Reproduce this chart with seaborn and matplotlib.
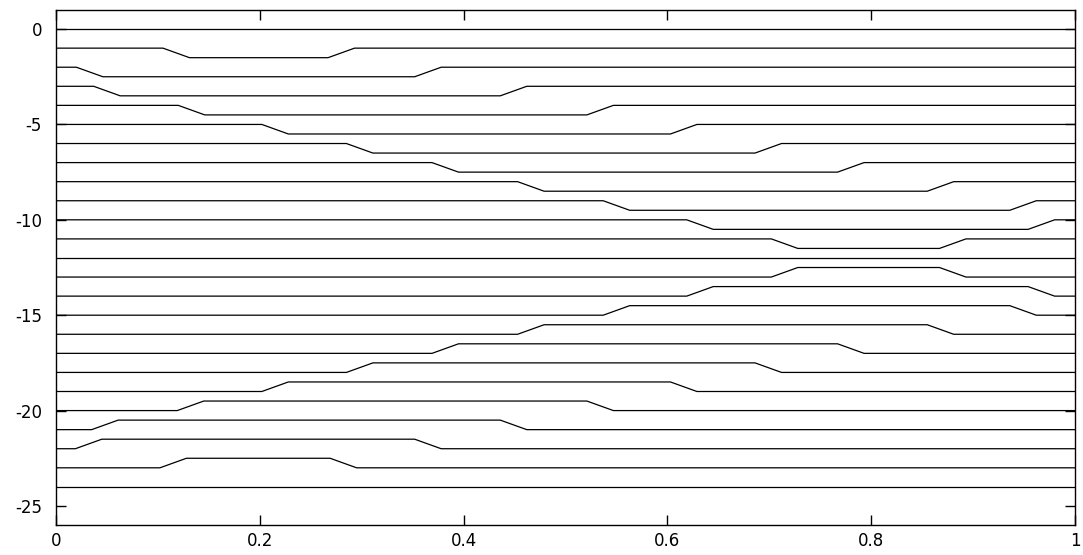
import numpy as np
import pandas as pd
import matplotlib
matplotlib.use("Agg")
import matplotlib.pyplot as plt
import seaborn as sns

# one trace per offset 0 .. -24; each non-flat trace has one half-unit step pulse
offsets = list(range(0, -25, -1))
# pulse direction: -1 = dips down by 0.5, +1 = bumps up by 0.5, 0 = flat
direction = [0, -1, -1, -1, -1, -1, -1, -1, -1, -1, -1, -1, 0,
             1, 1, 1, 1, 1, 1, 1, 1, 1, 1, 1, 0]
# centre of the leading and trailing edges
edge_on = [None, 0.118, 0.033, 0.050, 0.133, 0.215, 0.298, 0.382, 0.466, 0.550, 0.632, 0.715, None,
           0.715, 0.632, 0.550, 0.466, 0.382, 0.298, 0.215, 0.132, 0.048, 0.032, 0.115, None]
edge_off = [None, 0.280, 0.365, 0.449, 0.534, 0.616, 0.699, 0.780, 0.868, 0.949, 0.967, 0.880, None,
            0.880, 0.967, 0.949, 0.868, 0.780, 0.699, 0.616, 0.534, 0.449, 0.365, 0.282, None]
ramp = 0.026  # width of each edge in x
x_ticks = [0, 0.2, 0.4, 0.6, 0.8, 1]
x_labels = ["0", "0.2", "0.4", "0.6", "0.8", "1"]
y_ticks = [0, -5, -10, -15, -20, -25]
y_labels = ["0", "-5", "-10", "-15", "-20", "-25"]

rows = []
for k, base in enumerate(offsets):
    d = direction[k]
    if d == 0:
        pts = [(0.0, base), (1.0, base)]
    else:
        a, b = edge_on[k], edge_off[k]
        lvl = base + 0.5 * d
        pts = [(0.0, base), (a - ramp / 2, base), (a + ramp / 2, lvl),
               (b - ramp / 2, lvl), (b + ramp / 2, base), (1.0, base)]
    for x, y in pts:
        rows.append({"line": k, "x": x, "y": y})
df = pd.DataFrame(rows)

sns.set_style("ticks")
plt.rcParams["font.family"] = ["DejaVu Sans"]
plt.rcParams["axes.unicode_minus"] = False

fig = plt.figure(figsize=(10.83, 5.55), dpi=100)
ax = fig.add_axes([0.0517, 0.054, 0.9409, 0.928])

sns.lineplot(data=df, x="x", y="y", units="line", estimator=None, sort=False,
             color="black", lw=0.9, ax=ax)

ax.set_xlim(0, 1)
ax.set_ylim(-26, 1)
ax.set_xticks(x_ticks)
ax.set_xticklabels(x_labels)
ax.set_yticks(y_ticks)
ax.set_yticklabels(y_labels)
ax.set_xlabel("")
ax.set_ylabel("")
ax.tick_params(direction="in", length=7, width=1, top=True, right=True,
               labelsize=12, colors="black")
ax.tick_params(axis="y", pad=10)
ax.tick_params(axis="x", pad=5)
for s in ax.spines.values():
    s.set_linewidth(1)
    s.set_color("black")

fig.savefig("out.png", dpi=100)
